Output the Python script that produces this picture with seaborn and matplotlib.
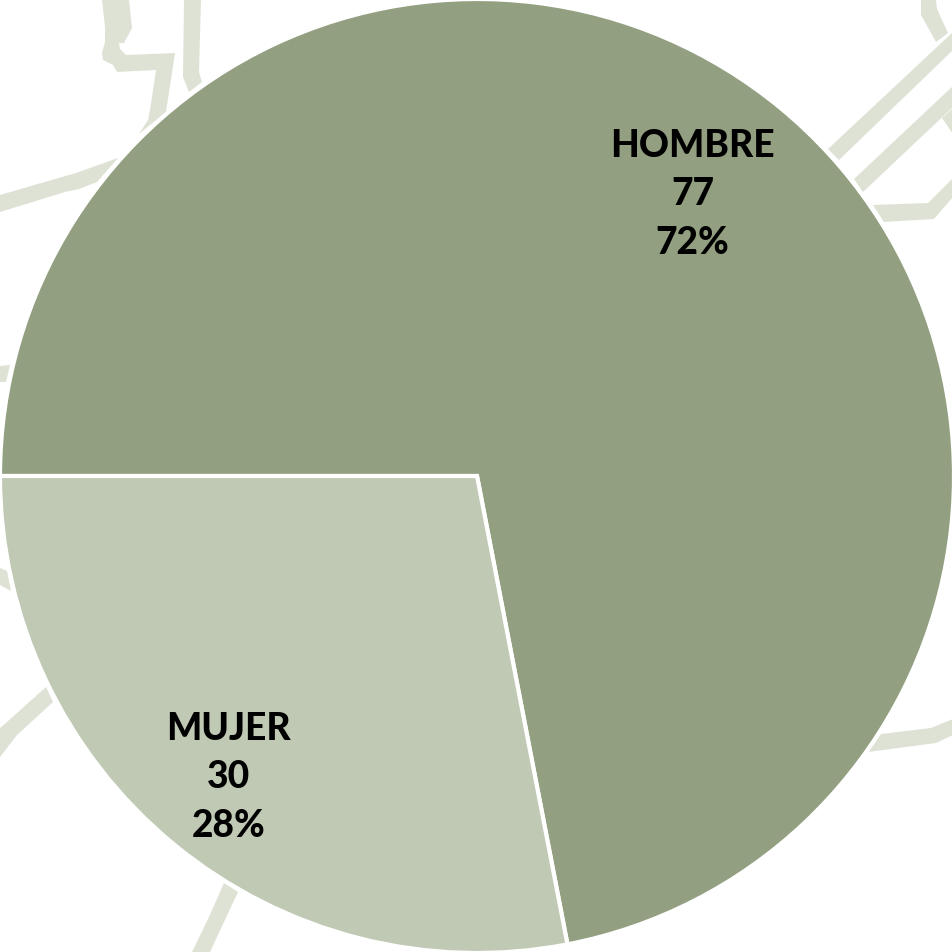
import matplotlib
matplotlib.use("Agg")
import matplotlib.pyplot as plt
import seaborn as sns

# data
categorias = ["HOMBRE", "MUJER"]
valores = [77, 30]
colores = ["#929F80", "#BFC9B4"]
color_mapa = "#DDE2D5"

# faded street map behind the pie, in image pixels
calles = [
    [(102, 0), (129, 0), (132, 28), (124, 43), (119, 43), (120, 49), (126, 55), (175, 53), (166, 112),
     (139, 134), (148, 120), (150, 110), (156, 70), (117, 72), (113, 65), (103, 60), (102, 53), (105, 42), (105, 27)],
    [(184, 0), (201, 0), (199, 72), (202, 82), (189, 92), (183, 77)],
    [(0, 195), (62, 177), (76, 173), (118, 158), (97, 182), (79, 189), (65, 192), (0, 212)],
    [(921, 0), (936, 0), (937, 9), (948, 33), (936, 42), (921, 15)],
    [(828, 149), (953, 32), (953, 50), (839, 160)],
    [(854, 179), (953, 86), (953, 107), (863, 192)],
    [(942, 118), (953, 108), (953, 134)],
    [(873, 205), (928, 203), (953, 178), (953, 197), (934, 219), (884, 222)],
    [(0, 366), (10, 365), (6, 382), (0, 382)],
    [(0, 568), (7, 571), (11, 591), (0, 585)],
    [(46, 687), (53, 702), (17, 735), (0, 757), (0, 728), (7, 722)],
    [(224, 883), (238, 892), (210, 952), (192, 952), (209, 917)],
    [(881, 734), (931, 728), (953, 719), (953, 735), (936, 743), (868, 752)],
]

sns.set_theme(style="white")
plt.rcParams['font.family'] = ['Lato', 'DejaVu Sans']

fig = plt.figure(figsize=(9.53, 9.52), dpi=100, facecolor="white")

bg = fig.add_axes([0, 0, 1, 1])
bg.set_xlim(0, 953)
bg.set_ylim(952, 0)
bg.axis("off")
for calle in calles:
    bg.fill(*zip(*calle), color=color_mapa, lw=0)

ax = fig.add_axes([0, 0, 1, 1])
ax.patch.set_alpha(0)
palette = sns.color_palette(colores)
ax.pie(valores, colors=palette, startangle=180, counterclock=False, radius=1.0,
       wedgeprops=dict(edgecolor="white", linewidth=3))
r = 477.0
ax.set_xlim(-477 / r, 476 / r)
ax.set_ylim(-476 / r, 476 / r)
ax.set_aspect("equal")
ax.axis("off")

total = sum(valores)
posiciones = [(0.452, 0.591), (-0.521, -0.632)]
for cat, val, (x, y) in zip(categorias, valores, posiciones):
    ax.text(x, y, f"{cat}\n{val}\n{val / total:.0%}", ha="center", va="center",
            fontsize=26.7, fontweight="black", color="black", linespacing=1.52)

fig.savefig("out.png", dpi=100, facecolor="white")
